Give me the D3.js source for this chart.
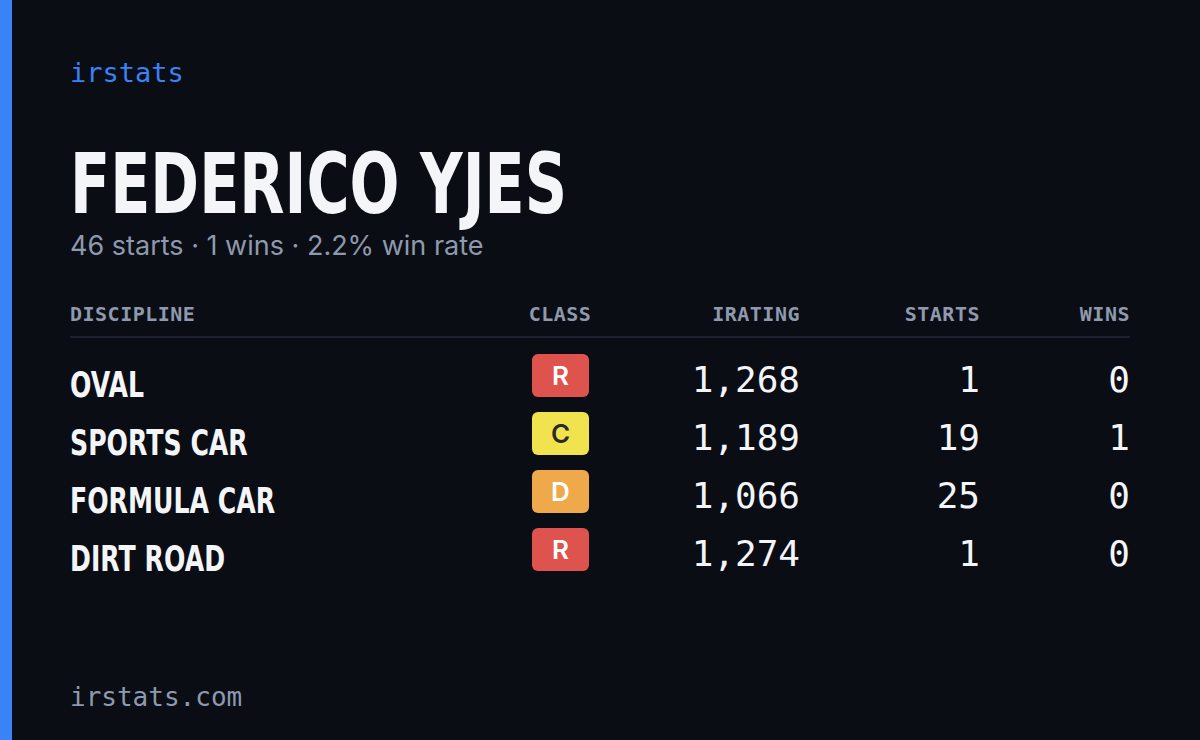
<!DOCTYPE html>
<html><head><meta charset="utf-8">
<script src="https://cdn.jsdelivr.net/npm/d3@7"></script>
<style>
html,body{margin:0;padding:0;background:#0a0d14;}
</style></head>
<body>
<svg id="card" width="1200" height="740"></svg>
<script>
const disciplines = ["OVAL", "SPORTS CAR", "FORMULA CAR", "DIRT ROAD"];
const classes = ["R", "C", "D", "R"];
const iratings = [1268, 1189, 1066, 1274];
const starts = [1, 19, 25, 1];
const wins = [0, 1, 0, 0];
const headers = ["DISCIPLINE", "CLASS", "IRATING", "STARTS", "WINS"];

const classColor = { R: "#de534d", C: "#f1e34e", D: "#efa94b" };
const classText = { R: "#ffffff", C: "#2a2a2a", D: "#ffffff" };
const mono = "'DejaVu Sans Mono', 'Liberation Mono', monospace";
const cond = "'DejaVu Sans', sans-serif";
const squeeze = 0.7; // no condensed face installed, so squash horizontally

const svg = d3.select("#card");
svg.append("rect").attr("width", 1200).attr("height", 740).attr("fill", "#0a0d14");
svg.append("rect").attr("width", 12).attr("height", 740).attr("fill", "#3b82f6");

svg.append("text").attr("x", 70).attr("y", 82).text("irstats")
  .attr("fill", "#3b82f6").style("font", `500 27px ${mono}`);

svg.append("text").attr("transform", `translate(70,213) scale(${squeeze},1)`).text("FEDERICO YJES")
  .attr("fill", "#f4f5f8").style("font", `bold 84px ${cond}`);

const totalStarts = d3.sum(starts), totalWins = d3.sum(wins);
svg.append("text").attr("x", 70).attr("y", 255)
  .text(`${totalStarts} starts · ${totalWins} wins · ${(100 * totalWins / totalStarts).toFixed(1)}% win rate`)
  .attr("fill", "#8e99ad").style("font", "27px Inter, sans-serif");

// column anchors
const cols = [
  { x: 70, anchor: "start" },
  { x: 560, anchor: "middle" },
  { x: 800, anchor: "end" },
  { x: 980, anchor: "end" },
  { x: 1130, anchor: "end" },
];

svg.append("g").selectAll("text").data(headers).join("text")
  .attr("x", (d, i) => cols[i].x).attr("y", 321)
  .attr("text-anchor", (d, i) => cols[i].anchor)
  .attr("fill", "#8e99ad").style("font", `bold 20px ${mono}`)
  .style("letter-spacing", "0.5px").text(d => d);

svg.append("line").attr("x1", 70).attr("x2", 1130).attr("y1", 337).attr("y2", 337)
  .attr("stroke", "#1c2130").attr("stroke-width", 2);

const y = d3.scaleBand().domain(d3.range(disciplines.length)).range([350, 582]);
const fmt = d3.format(",");

const rows = svg.append("g").selectAll("g").data(disciplines).join("g")
  .attr("transform", (d, i) => `translate(0,${y(i)})`);

rows.append("text").attr("transform", `translate(70,47) scale(${squeeze},1)`).text(d => d)
  .attr("fill", "#f4f5f8").style("font", `bold 36px ${cond}`);

rows.append("rect").attr("x", 532).attr("y", 4).attr("width", 57).attr("height", 43).attr("rx", 6)
  .attr("fill", (d, i) => classColor[classes[i]]);
rows.append("text").attr("x", 560.5).attr("y", 35).attr("text-anchor", "middle")
  .text((d, i) => classes[i]).attr("fill", (d, i) => classText[classes[i]])
  .style("font", "600 26px Inter, sans-serif");

const cell = (i, vals, f) => rows.append("text").attr("x", cols[i].x).attr("y", 42)
  .attr("text-anchor", "end").attr("fill", "#f4f5f8")
  .style("font", `500 36px ${mono}`).text((d, k) => f(vals[k]));
cell(2, iratings, fmt);
cell(3, starts, String);
cell(4, wins, String);

svg.append("text").attr("x", 70).attr("y", 706).text("irstats.com")
  .attr("fill", "#8e99ad").style("font", `500 26px ${mono}`);
</script>
</body></html>
